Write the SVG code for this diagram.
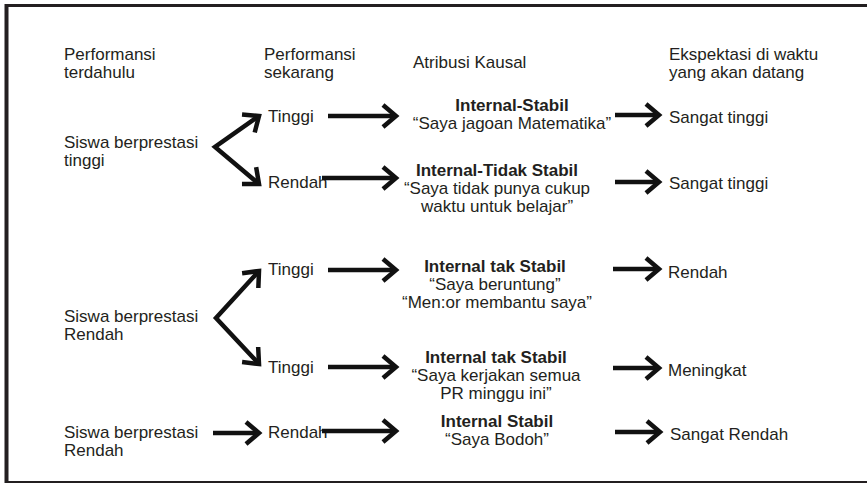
<svg xmlns="http://www.w3.org/2000/svg" width="867" height="483" viewBox="0 0 867 483">
  <defs>
    <style>
      text { font-family: "Liberation Sans", Arial, sans-serif; font-size: 17px; fill: #231f20; }
      .b { font-weight: bold; }
      .c { text-anchor: middle; }
      .arrow { fill: none; stroke: #111; stroke-width: 4.5; stroke-linejoin: miter; marker-end: url(#head); }
      .fork { fill: none; stroke: #111; stroke-width: 4.5; stroke-linejoin: miter; marker-start: url(#headStart); marker-end: url(#head); }
      .frame { stroke: #231f20; }
    </style>
    <marker id="head" viewBox="-18 -14 22 28" refX="0" refY="0" markerWidth="22" markerHeight="28" markerUnits="userSpaceOnUse" orient="auto">
      <path d="M-13,-11 L0,0 L-13,11" fill="none" stroke="#111" stroke-width="4.5" stroke-linejoin="miter"/>
    </marker>
    <marker id="headStart" viewBox="-18 -14 22 28" refX="0" refY="0" markerWidth="22" markerHeight="28" markerUnits="userSpaceOnUse" orient="auto-start-reverse">
      <path d="M-13,-11 L0,0 L-13,11" fill="none" stroke="#111" stroke-width="4.5" stroke-linejoin="miter"/>
    </marker>
  </defs>

  <rect width="867" height="483" fill="#ffffff"/>

  <!-- frame: left, top and bottom rules -->
  <g id="frame" class="frame">
    <line x1="6.5" y1="4" x2="6.5" y2="483" stroke-width="4"/>
    <line x1="5" y1="5.5" x2="867" y2="5.5" stroke-width="3"/>
    <line x1="5" y1="482" x2="867" y2="482" stroke-width="2"/>
  </g>

  <!-- column headings -->
  <g id="headings">
    <text x="64" y="60">Performansi</text>
    <text x="64" y="78">terdahulu</text>
    <text x="264" y="60">Performansi</text>
    <text x="264" y="78">sekarang</text>
    <text x="413" y="68">Atribusi Kausal</text>
    <text x="669" y="60">Ekspektasi di waktu</text>
    <text x="669" y="78">yang akan datang</text>
  </g>

  <!-- past performance -->
  <g id="past-high">
    <text x="64" y="148">Siswa berprestasi</text>
    <text x="64" y="166">tinggi</text>
  </g>
  <g id="past-low-a">
    <text x="64" y="322">Siswa berprestasi</text>
    <text x="64" y="340">Rendah</text>
  </g>
  <g id="past-low-b">
    <text x="64" y="438">Siswa berprestasi</text>
    <text x="64" y="456">Rendah</text>
  </g>

  <!-- current performance -->
  <g id="now-1"><text x="268" y="122">Tinggi</text></g>
  <g id="now-2"><text x="268" y="188">Rendah</text></g>
  <g id="now-3"><text x="268" y="275">Tinggi</text></g>
  <g id="now-4"><text x="268" y="373">Tinggi</text></g>
  <g id="now-5"><text x="268" y="438">Rendah</text></g>

  <!-- causal attributions -->
  <g id="attr-1">
    <text class="b c" x="512" y="111">Internal-Stabil</text>
    <text class="c" x="512" y="129">“Saya jagoan Matematika”</text>
  </g>
  <g id="attr-2">
    <text class="b c" x="497" y="176">Internal-Tidak Stabil</text>
    <text class="c" x="497" y="194">“Saya tidak punya cukup</text>
    <text class="c" x="497" y="212">waktu untuk belajar”</text>
  </g>
  <g id="attr-3">
    <text class="b c" x="495" y="272">Internal tak Stabil</text>
    <text class="c" x="495" y="290">“Saya beruntung”</text>
    <text class="c" x="497" y="308">“Men:or membantu saya”</text>
  </g>
  <g id="attr-4">
    <text class="b c" x="496" y="363">Internal tak Stabil</text>
    <text class="c" x="496" y="381">“Saya kerjakan semua</text>
    <text class="c" x="496" y="399">PR minggu ini”</text>
  </g>
  <g id="attr-5">
    <text class="b c" x="497" y="427">Internal Stabil</text>
    <text class="c" x="497" y="445">“Saya Bodoh”</text>
  </g>

  <!-- future expectations -->
  <g id="exp-1"><text x="669" y="123">Sangat tinggi</text></g>
  <g id="exp-2"><text x="669" y="189">Sangat tinggi</text></g>
  <g id="exp-3"><text x="668" y="278">Rendah</text></g>
  <g id="exp-4"><text x="668" y="376">Meningkat</text></g>
  <g id="exp-5"><text x="670" y="440">Sangat Rendah</text></g>

  <!-- connectors -->
  <g id="connectors">
    <polyline class="fork" points="259,116 215,147 259,184"/>
    <polyline class="fork" points="259,271 216,318 259,364"/>
    <line class="arrow" x1="213" y1="433" x2="259" y2="433"/>

    <line class="arrow" x1="328" y1="116" x2="396" y2="116"/>
    <line class="arrow" x1="322" y1="178" x2="396" y2="178"/>
    <line class="arrow" x1="328" y1="270" x2="396" y2="270"/>
    <line class="arrow" x1="328" y1="367" x2="396" y2="367"/>
    <line class="arrow" x1="322" y1="431" x2="396" y2="431"/>

    <line class="arrow" x1="615" y1="115" x2="659" y2="115"/>
    <line class="arrow" x1="615" y1="182" x2="659" y2="182"/>
    <line class="arrow" x1="613" y1="269" x2="659" y2="269"/>
    <line class="arrow" x1="613" y1="368" x2="659" y2="368"/>
    <line class="arrow" x1="615" y1="432" x2="660" y2="432"/>
  </g>
</svg>
